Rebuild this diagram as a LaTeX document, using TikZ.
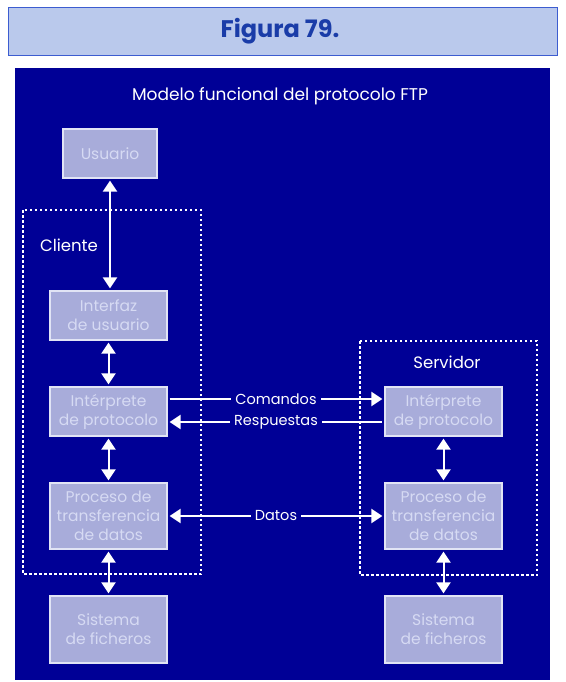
\documentclass[tikz,border=0pt]{standalone}
\usepackage{fontspec}
\setmainfont{Poppins}
\usetikzlibrary{arrows.meta}
\definecolor{panelblue}{RGB}{0,0,150}
\definecolor{titlefill}{RGB}{186,201,236}
\definecolor{titleline}{RGB}{60,92,208}
\definecolor{titletext}{RGB}{26,60,168}
\definecolor{boxfill}{RGB}{168,172,218}
\definecolor{boxline}{RGB}{225,228,245}
\definecolor{boxtext}{RGB}{214,218,243}
\begin{document}
\begin{tikzpicture}[x=1pt, y=-1pt, >={Triangle[width=14pt,length=11pt]},
    box/.style={draw=boxline, line width=1.2pt, fill=boxfill, text=boxtext,
        minimum width=117pt, minimum height=49pt, align=center, inner sep=0pt,
        font=\fontsize{15.5}{19}\selectfont},
    link/.style={draw=white, line width=2pt, shorten <=2pt, shorten >=2pt},
    zone/.style={draw=white, line width=1.8pt, dash pattern=on 2.5pt off 2.5pt},
    tag/.style={text=white, fill=panelblue, inner sep=4pt,
        font=\fontsize{14.5}{16}\selectfont}]
    \useasboundingbox (0,0) rectangle (565,682);
    \fill[white] (0,0) rectangle (565,682);

    % 1. Cabecera de la figura
    \draw[titleline, fill=titlefill, line width=1pt] (8,8) rectangle (557,56);
    \node[text=titletext, font=\fontsize{24}{26}\selectfont\bfseries] (title) at (280,31) {Figura 79.};

    % 2. Fondo azul y titulo del modelo
    \fill[panelblue] (15,68) rectangle (550,680);
    \node[text=white, font=\fontsize{17}{19}\selectfont] (heading) at (280,96) {Modelo funcional del protocolo FTP};

    % 3. Zonas de cliente y servidor
    \draw[zone] (23,210) rectangle (201,574);
    \draw[zone] (360,341) rectangle (537,575);
    \node[tag, fill=none, font=\fontsize{16.5}{18}\selectfont] (cliente) at (69,245) {Cliente};
    \node[tag, fill=none, font=\fontsize{16.5}{18}\selectfont] (servidor) at (447,362) {Servidor};

    % 4. Bloques del cliente
    \node[box, minimum width=94pt] (usuario) at (110,153.5) {Usuario};
    \node[box] (iface) at (108.5,315.5) {Interfaz\\de usuario};
    \node[box] (cip) at (108.5,411.5) {Intérprete\\de protocolo};
    \node[box, minimum height=66pt] (cproc) at (108.5,516) {Proceso de\\transferencia\\de datos};
    \node[box, minimum height=67pt] (cfs) at (108.5,629.5) {Sistema\\de ficheros};

    % 5. Bloques del servidor
    \node[box] (sip) at (443.5,411.5) {Intérprete\\de protocolo};
    \node[box, minimum height=66pt] (sproc) at (443.5,516) {Proceso de\\transferencia\\de datos};
    \node[box, minimum height=67pt] (sfs) at (443.5,629.5) {Sistema\\de ficheros};

    % 6. Flechas verticales
    \draw[link, <->] (usuario.south) -- (usuario.south |- iface.north);
    \draw[link, <->] (iface) -- (cip);
    \draw[link, <->] (cip) -- (cproc);
    \draw[link, <->] (cproc) -- (cfs);
    \draw[link, <->] (sip) -- (sproc);
    \draw[link, <->] (sproc) -- (sfs);

    % 7. Comunicacion entre cliente y servidor
    \draw[link, ->] ([yshift=12.5pt]cip.east) -- node[tag] (comandos) {Comandos} ([yshift=12.5pt]sip.west);
    \draw[link, <-] ([yshift=-10.5pt]cip.east) -- node[tag] (respuestas) {Respuestas} ([yshift=-10.5pt]sip.west);
    \draw[link, <->] (cproc.east) -- node[tag] (datos) {Datos} (sproc.west);
\end{tikzpicture}
\end{document}
